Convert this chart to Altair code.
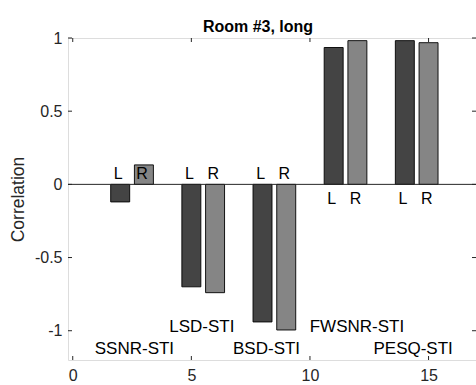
import altair as alt
import pandas as pd

# ---- data ----
pos_L = [2, 5, 8, 11, 14]
pos_R = [3, 6, 9, 12, 15]
val_L = [-0.12, -0.70, -0.94, 0.935, 0.982]
val_R = [0.133, -0.74, -0.995, 0.982, 0.968]

# L/R letter labels (y level per group)
lab_y = [0.07, 0.07, 0.07, -0.097, -0.097]

categories = ["SSNR-STI", "LSD-STI", "BSD-STI", "FWSNR-STI", "PESQ-STI"]
cat_x = [2.6, 5.44, 8.17, 11.98, 14.35]
cat_y = [-1.125, -0.973, -1.125, -0.973, -1.125]

x_ticks = [0, 5, 10, 15]
y_ticks = [-1, -0.5, 0, 0.5, 1]

X_DOMAIN = [-0.2, 17.0]
Y_DOMAIN = [-1.2, 1.0]
W, H = 408, 322
FONT = "Liberation Sans"
AX = "#262626"

bars = pd.DataFrame({
    "pos": pos_L + pos_R,
    "val": val_L + val_R,
    "side": ["L"] * len(pos_L) + ["R"] * len(pos_R),
})
letters = pd.DataFrame({
    "pos": pos_L + pos_R,
    "ly": lab_y + lab_y,
    "txt": ["L"] * len(pos_L) + ["R"] * len(pos_R),
})
cats = pd.DataFrame({"name": categories, "cx": cat_x, "cy": cat_y})
xt = pd.DataFrame({"t": x_ticks})
yt = pd.DataFrame({"t": y_ticks})

xs = alt.Scale(domain=X_DOMAIN, nice=False, zero=False)
ys = alt.Scale(domain=Y_DOMAIN, nice=False, zero=False)

x_axis = alt.Axis(values=x_ticks, tickSize=0, labelPadding=7, domain=False,
                  grid=False, title=None, labelFontSize=16, labelFont=FONT,
                  labelColor=AX)
y_axis = alt.Axis(values=y_ticks, tickSize=0, labelPadding=6, domain=False,
                  grid=False, title="Correlation", titleFontSize=17.5,
                  titleFont=FONT, titleFontWeight="normal", titleColor=AX,
                  titlePadding=7, labelFontSize=16, labelFont=FONT,
                  labelColor=AX, labelExpr="'' + datum.value")

bar_layer = alt.Chart(bars).transform_calculate(
    x0="datum.pos - 0.4", x1="datum.pos + 0.4"
).mark_bar(stroke="#000000", strokeWidth=0.9).encode(
    x=alt.X("x0:Q", scale=xs, axis=x_axis),
    x2="x1:Q",
    y=alt.Y("val:Q", scale=ys, axis=y_axis),
    y2=alt.datum(0),
    color=alt.Color("side:N", scale=alt.Scale(domain=["L", "R"],
                    range=["#444444", "#858585"]), legend=None),
)

zero_line = alt.Chart(pd.DataFrame({"z": [0]})).mark_rule(
    color=AX, strokeWidth=1
).encode(y=alt.Y("z:Q", scale=ys))

letter_layer = alt.Chart(letters).transform_calculate(
    lx="datum.pos - 0.08"
).mark_text(font=FONT, fontSize=16, color="#000000", baseline="middle",
            align="center").encode(
    x=alt.X("lx:Q", scale=xs), y=alt.Y("ly:Q", scale=ys), text="txt:N")

cat_layer = alt.Chart(cats).mark_text(
    font=FONT, fontSize=17, color="#000000", baseline="middle", align="center"
).encode(x=alt.X("cx:Q", scale=xs), y=alt.Y("cy:Q", scale=ys), text="name:N")

tick_top = alt.Chart(xt).mark_rule(color=AX, strokeWidth=1).encode(
    x=alt.X("t:Q", scale=xs), y=alt.value(0), y2=alt.value(4))
tick_bot = alt.Chart(xt).mark_rule(color=AX, strokeWidth=1).encode(
    x=alt.X("t:Q", scale=xs), y=alt.value(H), y2=alt.value(H - 4))
tick_left = alt.Chart(yt).mark_rule(color=AX, strokeWidth=1).encode(
    y=alt.Y("t:Q", scale=ys), x=alt.value(0), x2=alt.value(4))
tick_right = alt.Chart(yt).mark_rule(color=AX, strokeWidth=1).encode(
    y=alt.Y("t:Q", scale=ys), x=alt.value(W), x2=alt.value(W - 4))

chart = alt.layer(
    bar_layer, zero_line, letter_layer, cat_layer,
    tick_top, tick_bot, tick_left, tick_right
).properties(
    width=W, height=H,
    title=alt.TitleParams("Room #3, long", font=FONT, fontSize=16,
                          fontWeight="bold", color="#000000", anchor="middle",
                          dx=-14, offset=7, dy=12),
    autosize=alt.AutoSizeParams(type="none"),
    padding={"left": 68, "top": 38, "right": 0, "bottom": 25},
).configure_view(
    stroke=AX, strokeWidth=1
).configure(background="white")

chart.save("out.html", embed_options={"renderer": "svg", "actions": False})
